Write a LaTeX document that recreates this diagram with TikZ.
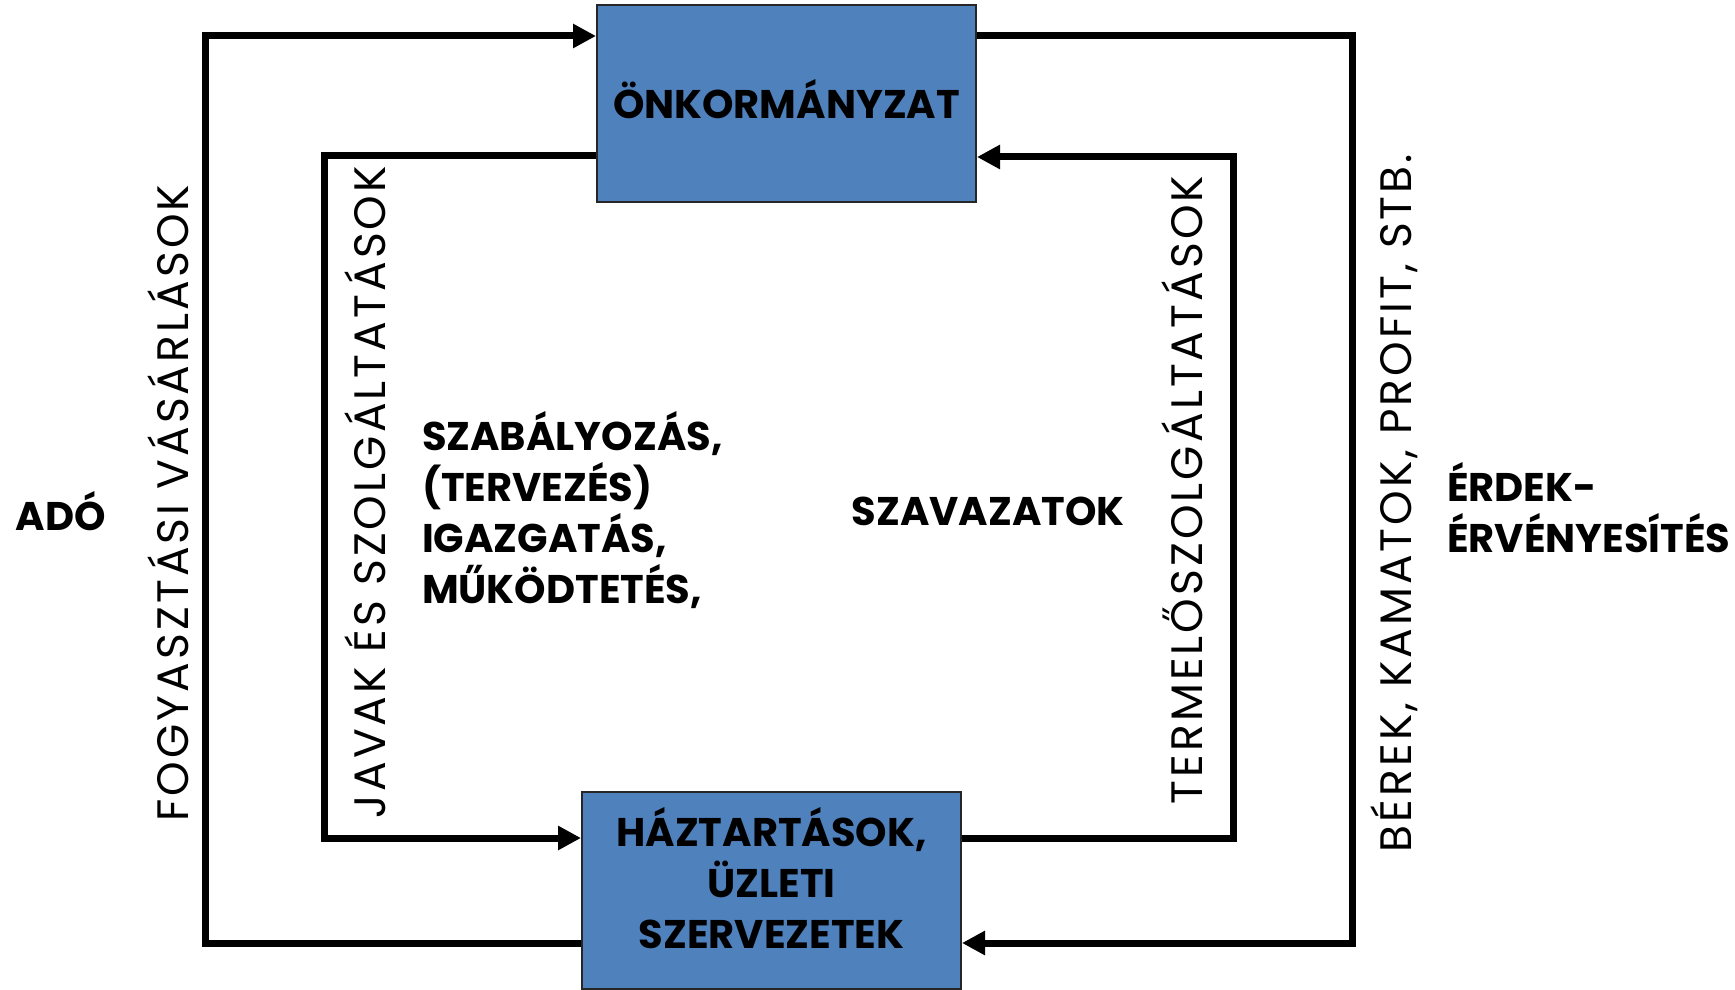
\documentclass[tikz,border=0pt]{standalone}
\usepackage{fontspec}
\setmainfont{Poppins}
\newfontfamily\widefont[LetterSpace=7]{Poppins}
\usetikzlibrary{arrows.meta,positioning}
\definecolor{boxblue}{RGB}{79,129,189}
\tikzset{
  unitbox/.style={draw=black!85, line width=1pt, fill=boxblue, inner sep=0pt,
    minimum width=189.5pt, minimum height=98.5pt, align=center,
    font=\fontsize{20}{25.5}\selectfont\bfseries},
  flow/.style={-{Triangle[length=11.5pt,width=11.5pt]}, line width=3.5pt, line join=miter},
  flowlbl/.style={rotate=90, font=\widefont\fontsize{22}{25}\selectfont},
  boldlbl/.style={align=left, font=\fontsize{20}{25.5}\selectfont\bfseries},
}

\begin{document}
\begin{tikzpicture}[x=0.5pt, y=-0.5pt]
    \useasboundingbox (0,0) rectangle (1735,990);
    % boxes
    \node[unitbox, text depth=5pt] (onk) at (786.5,103.5) {ÖNKORMÁNYZAT};
    \node[unitbox, text depth=13pt] (haz) at (771.5,890.5) {HÁZTARTÁSOK,\\ÜZLETI\\SZERVEZETEK};
    % corners of the loops
    \coordinate (olt) at (205,36);
    \coordinate (olb) at (205,943);
    \coordinate (ilt) at (324,156);
    \coordinate (ilb) at (324,838);
    \coordinate (ort) at (1352,36);
    \coordinate (orb) at (1352,943);
    \coordinate (irt) at (1233,157);
    \coordinate (irb) at (1233,838);
    % outer loops
    \draw[flow] (haz.west |- olb) -- (olb) -- (olt) -- (onk.west |- olt);
    \draw[flow] (onk.east |- ort) -- (ort) -- (orb) -- (haz.east |- orb);
    % inner loops
    \draw[flow] (onk.west |- ilt) -- (ilt) -- (ilb) -- (haz.west |- ilb);
    \draw[flow] (haz.east |- irb) -- (irb) -- (irt) -- (onk.east |- irt);
    % flow labels
    \node[flowlbl] (fogy) at (168,503) {FOGYASZTÁSI VÁSÁRLÁSOK};
    \node[flowlbl] (javak) at (365,492) {JAVAK ÉS SZOLGÁLTATÁSOK};
    \node[flowlbl] (term) at (1182,490) {TERMELŐSZOLGÁLTATÁSOK};
    \node[flowlbl] (berek) at (1394,503) {BÉREK, KAMATOK, PROFIT, STB.};
    % side texts
    \node[boldlbl] (ado) at (61,511) {ADÓ};
    \node[boldlbl, anchor=west] (szab) at (415,510) {SZABÁLYOZÁS,\\(TERVEZÉS)\\IGAZGATÁS,\\MŰKÖDTETÉS,};
    \node[boldlbl] (szav) at (988,511) {SZAVAZATOK};
    \node[boldlbl, anchor=west] (erdek) at (1440,508) {ÉRDEK-\\ÉRVÉNYESÍTÉS};
\end{tikzpicture}
\end{document}
